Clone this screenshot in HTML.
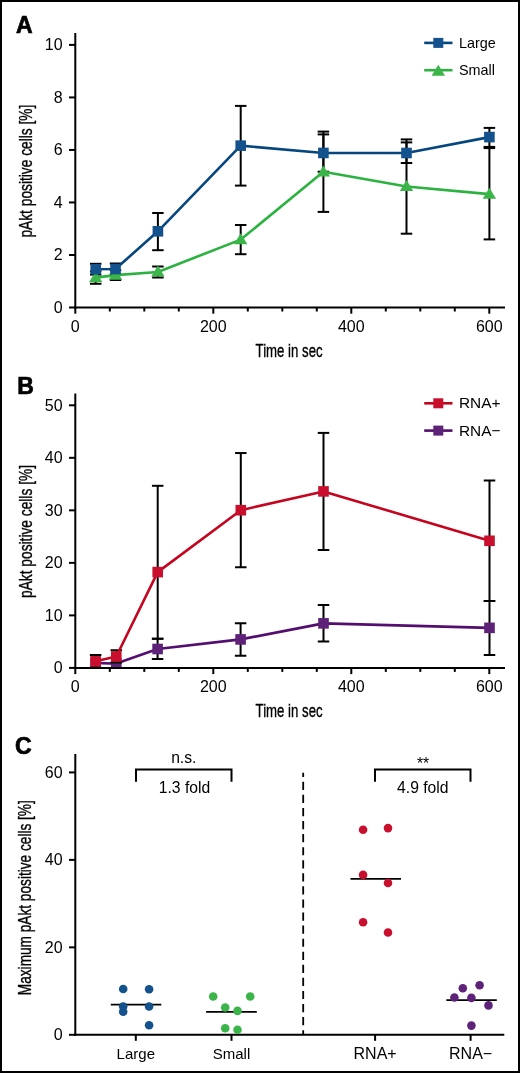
<!DOCTYPE html>
<html><head><meta charset="utf-8"><style>html,body{margin:0;padding:0;background:#fff}svg{display:block;will-change:transform}</style></head><body>
<svg width="520" height="1073" viewBox="0 0 520 1073">
<style>text{font-family:"Liberation Sans",sans-serif;fill:#000}.tk{font-size:16px}.lg{font-size:14.4px}.lg2{font-size:15.4px}.cat2{font-size:16px}.ttl{font-size:17.5px;stroke:#000;stroke-width:0.33px}.pl{font-size:23px;font-weight:bold;stroke:#000;stroke-width:0.7px}.cat{font-size:15px}.an{font-size:15.7px}</style>
<rect x="0" y="0" width="520" height="1073" fill="#fff"/>
<text x="16" y="32.5" class="pl">A</text>
<text x="17.2" y="393.9" class="pl">B</text>
<text x="15" y="754" class="pl">C</text>
<defs><clipPath id="cp0"><rect x="0" y="0" width="520" height="308.0"/></clipPath></defs><g clip-path="url(#cp0)">
<line x1="95.7" y1="271.4" x2="95.7" y2="283.8" stroke="#000" stroke-width="2.0"/>
<line x1="89.95" y1="271.4" x2="101.45" y2="271.4" stroke="#000" stroke-width="2.0"/>
<line x1="89.95" y1="283.8" x2="101.45" y2="283.8" stroke="#000" stroke-width="2.0"/>
<line x1="115.5" y1="270.2" x2="115.5" y2="280.0" stroke="#000" stroke-width="2.0"/>
<line x1="109.75" y1="270.2" x2="121.25" y2="270.2" stroke="#000" stroke-width="2.0"/>
<line x1="109.75" y1="280.0" x2="121.25" y2="280.0" stroke="#000" stroke-width="2.0"/>
<line x1="157.9" y1="266.5" x2="157.9" y2="277.5" stroke="#000" stroke-width="2.0"/>
<line x1="152.15" y1="266.5" x2="163.65" y2="266.5" stroke="#000" stroke-width="2.0"/>
<line x1="152.15" y1="277.5" x2="163.65" y2="277.5" stroke="#000" stroke-width="2.0"/>
<line x1="240.7" y1="225.0" x2="240.7" y2="254.2" stroke="#000" stroke-width="2.0"/>
<line x1="234.95" y1="225.0" x2="246.45" y2="225.0" stroke="#000" stroke-width="2.0"/>
<line x1="234.95" y1="254.2" x2="246.45" y2="254.2" stroke="#000" stroke-width="2.0"/>
<line x1="323.4" y1="131.6" x2="323.4" y2="211.9" stroke="#000" stroke-width="2.0"/>
<line x1="317.65" y1="131.6" x2="329.15" y2="131.6" stroke="#000" stroke-width="2.0"/>
<line x1="317.65" y1="211.9" x2="329.15" y2="211.9" stroke="#000" stroke-width="2.0"/>
<line x1="406.5" y1="139.4" x2="406.5" y2="233.7" stroke="#000" stroke-width="2.0"/>
<line x1="400.75" y1="139.4" x2="412.25" y2="139.4" stroke="#000" stroke-width="2.0"/>
<line x1="400.75" y1="233.7" x2="412.25" y2="233.7" stroke="#000" stroke-width="2.0"/>
<line x1="489.4" y1="148.1" x2="489.4" y2="239.4" stroke="#000" stroke-width="2.0"/>
<line x1="483.65" y1="148.1" x2="495.15" y2="148.1" stroke="#000" stroke-width="2.0"/>
<line x1="483.65" y1="239.4" x2="495.15" y2="239.4" stroke="#000" stroke-width="2.0"/>
<line x1="95.7" y1="263.8" x2="95.7" y2="274.6" stroke="#000" stroke-width="2.0"/>
<line x1="89.95" y1="263.8" x2="101.45" y2="263.8" stroke="#000" stroke-width="2.0"/>
<line x1="89.95" y1="274.6" x2="101.45" y2="274.6" stroke="#000" stroke-width="2.0"/>
<line x1="115.5" y1="263.5" x2="115.5" y2="274.5" stroke="#000" stroke-width="2.0"/>
<line x1="109.75" y1="263.5" x2="121.25" y2="263.5" stroke="#000" stroke-width="2.0"/>
<line x1="109.75" y1="274.5" x2="121.25" y2="274.5" stroke="#000" stroke-width="2.0"/>
<line x1="157.9" y1="213.0" x2="157.9" y2="250.2" stroke="#000" stroke-width="2.0"/>
<line x1="152.15" y1="213.0" x2="163.65" y2="213.0" stroke="#000" stroke-width="2.0"/>
<line x1="152.15" y1="250.2" x2="163.65" y2="250.2" stroke="#000" stroke-width="2.0"/>
<line x1="240.7" y1="105.9" x2="240.7" y2="185.6" stroke="#000" stroke-width="2.0"/>
<line x1="234.95" y1="105.9" x2="246.45" y2="105.9" stroke="#000" stroke-width="2.0"/>
<line x1="234.95" y1="185.6" x2="246.45" y2="185.6" stroke="#000" stroke-width="2.0"/>
<line x1="323.4" y1="134.4" x2="323.4" y2="171.7" stroke="#000" stroke-width="2.0"/>
<line x1="317.65" y1="134.4" x2="329.15" y2="134.4" stroke="#000" stroke-width="2.0"/>
<line x1="317.65" y1="171.7" x2="329.15" y2="171.7" stroke="#000" stroke-width="2.0"/>
<line x1="406.5" y1="142.4" x2="406.5" y2="163.0" stroke="#000" stroke-width="2.0"/>
<line x1="400.75" y1="142.4" x2="412.25" y2="142.4" stroke="#000" stroke-width="2.0"/>
<line x1="400.75" y1="163.0" x2="412.25" y2="163.0" stroke="#000" stroke-width="2.0"/>
<line x1="489.4" y1="127.9" x2="489.4" y2="146.9" stroke="#000" stroke-width="2.0"/>
<line x1="483.65" y1="127.9" x2="495.15" y2="127.9" stroke="#000" stroke-width="2.0"/>
<line x1="483.65" y1="146.9" x2="495.15" y2="146.9" stroke="#000" stroke-width="2.0"/>
<polyline points="95.7,277.6 115.5,275.1 157.9,272.0 240.7,239.6 323.4,171.8 406.5,186.5 489.4,194.1" fill="none" stroke="#2cb241" stroke-width="2.6" stroke-linejoin="round"/>
<polygon points="95.70,271.20 102.40,282.20 89.00,282.20" fill="#3bb54a"/>
<polygon points="115.50,268.70 122.20,279.70 108.80,279.70" fill="#3bb54a"/>
<polygon points="157.90,265.60 164.60,276.60 151.20,276.60" fill="#3bb54a"/>
<polygon points="240.70,233.20 247.40,244.20 234.00,244.20" fill="#3bb54a"/>
<polygon points="323.40,165.40 330.10,176.40 316.70,176.40" fill="#3bb54a"/>
<polygon points="406.50,180.10 413.20,191.10 399.80,191.10" fill="#3bb54a"/>
<polygon points="489.40,187.70 496.10,198.70 482.70,198.70" fill="#3bb54a"/>
<polyline points="95.7,269.2 115.5,269.0 157.9,231.3 240.7,145.65 323.4,152.95 406.5,153.0 489.4,137.1" fill="none" stroke="#06467f" stroke-width="2.6" stroke-linejoin="round"/>
<rect x="90.40" y="263.90" width="10.6" height="10.6" fill="#13528c"/>
<rect x="110.20" y="263.70" width="10.6" height="10.6" fill="#13528c"/>
<rect x="152.60" y="226.00" width="10.6" height="10.6" fill="#13528c"/>
<rect x="235.40" y="140.35" width="10.6" height="10.6" fill="#13528c"/>
<rect x="318.10" y="147.65" width="10.6" height="10.6" fill="#13528c"/>
<rect x="401.20" y="147.70" width="10.6" height="10.6" fill="#13528c"/>
<rect x="484.10" y="131.80" width="10.6" height="10.6" fill="#13528c"/>
</g>
<line x1="75.3" y1="33" x2="75.3" y2="308.5" stroke="#000" stroke-width="2.0"/>
<line x1="74.3" y1="307.5" x2="505" y2="307.5" stroke="#000" stroke-width="2.0"/>
<line x1="69" y1="307.50" x2="75.3" y2="307.50" stroke="#000" stroke-width="2.0"/>
<text x="62.6" y="312.90" text-anchor="end" class="tk">0</text>
<line x1="69" y1="254.98" x2="75.3" y2="254.98" stroke="#000" stroke-width="2.0"/>
<text x="62.6" y="260.38" text-anchor="end" class="tk">2</text>
<line x1="69" y1="202.46" x2="75.3" y2="202.46" stroke="#000" stroke-width="2.0"/>
<text x="62.6" y="207.86" text-anchor="end" class="tk">4</text>
<line x1="69" y1="149.94" x2="75.3" y2="149.94" stroke="#000" stroke-width="2.0"/>
<text x="62.6" y="155.34" text-anchor="end" class="tk">6</text>
<line x1="69" y1="97.42" x2="75.3" y2="97.42" stroke="#000" stroke-width="2.0"/>
<text x="62.6" y="102.82" text-anchor="end" class="tk">8</text>
<line x1="69" y1="44.90" x2="75.3" y2="44.90" stroke="#000" stroke-width="2.0"/>
<text x="62.6" y="50.30" text-anchor="end" class="tk">10</text>
<line x1="75.30" y1="307.5" x2="75.30" y2="313.7" stroke="#000" stroke-width="2.0"/>
<text x="75.30" y="331.9" text-anchor="middle" class="tk">0</text>
<line x1="109.80" y1="307.5" x2="109.80" y2="311.5" stroke="#000" stroke-width="2.0"/>
<line x1="144.30" y1="307.5" x2="144.30" y2="311.5" stroke="#000" stroke-width="2.0"/>
<line x1="178.80" y1="307.5" x2="178.80" y2="311.5" stroke="#000" stroke-width="2.0"/>
<line x1="213.30" y1="307.5" x2="213.30" y2="313.7" stroke="#000" stroke-width="2.0"/>
<text x="213.30" y="331.9" text-anchor="middle" class="tk">200</text>
<line x1="247.80" y1="307.5" x2="247.80" y2="311.5" stroke="#000" stroke-width="2.0"/>
<line x1="282.30" y1="307.5" x2="282.30" y2="311.5" stroke="#000" stroke-width="2.0"/>
<line x1="316.80" y1="307.5" x2="316.80" y2="311.5" stroke="#000" stroke-width="2.0"/>
<line x1="351.30" y1="307.5" x2="351.30" y2="313.7" stroke="#000" stroke-width="2.0"/>
<text x="351.30" y="331.9" text-anchor="middle" class="tk">400</text>
<line x1="385.80" y1="307.5" x2="385.80" y2="311.5" stroke="#000" stroke-width="2.0"/>
<line x1="420.30" y1="307.5" x2="420.30" y2="311.5" stroke="#000" stroke-width="2.0"/>
<line x1="454.80" y1="307.5" x2="454.80" y2="311.5" stroke="#000" stroke-width="2.0"/>
<line x1="489.30" y1="307.5" x2="489.30" y2="313.7" stroke="#000" stroke-width="2.0"/>
<text x="489.30" y="331.9" text-anchor="middle" class="tk">600</text>
<text x="255.6" y="356.8" class="ttl" textLength="67" lengthAdjust="spacingAndGlyphs">Time in sec</text>
<text transform="translate(32.3 237.6) rotate(-90)" x="0" y="0" class="ttl" textLength="133" lengthAdjust="spacingAndGlyphs">pAkt positive cells [%]</text>
<line x1="424.2" y1="42.9" x2="452.5" y2="42.9" stroke="#06467f" stroke-width="2.6"/>
<rect x="433.30" y="37.90" width="10" height="10" fill="#13528c"/>
<text x="459" y="47.80" class="lg">Large</text>
<line x1="424.2" y1="70.2" x2="452.5" y2="70.2" stroke="#2cb241" stroke-width="2.6"/>
<polygon points="438.30,64.70 445.00,75.70 431.60,75.70" fill="#3bb54a"/>
<text x="459" y="75.10" class="lg">Small</text>
<defs><clipPath id="cp360"><rect x="0" y="0" width="520" height="668.4"/></clipPath></defs><g clip-path="url(#cp360)">
<line x1="157.6" y1="638.8" x2="157.6" y2="659.0" stroke="#000" stroke-width="2.0"/>
<line x1="151.85" y1="638.8" x2="163.35" y2="638.8" stroke="#000" stroke-width="2.0"/>
<line x1="151.85" y1="659.0" x2="163.35" y2="659.0" stroke="#000" stroke-width="2.0"/>
<line x1="240.6" y1="623.3" x2="240.6" y2="655.7" stroke="#000" stroke-width="2.0"/>
<line x1="234.85" y1="623.3" x2="246.35" y2="623.3" stroke="#000" stroke-width="2.0"/>
<line x1="234.85" y1="655.7" x2="246.35" y2="655.7" stroke="#000" stroke-width="2.0"/>
<line x1="323.5" y1="605.1" x2="323.5" y2="641.4" stroke="#000" stroke-width="2.0"/>
<line x1="317.75" y1="605.1" x2="329.25" y2="605.1" stroke="#000" stroke-width="2.0"/>
<line x1="317.75" y1="641.4" x2="329.25" y2="641.4" stroke="#000" stroke-width="2.0"/>
<line x1="489.5" y1="601.0" x2="489.5" y2="654.9" stroke="#000" stroke-width="2.0"/>
<line x1="483.75" y1="601.0" x2="495.25" y2="601.0" stroke="#000" stroke-width="2.0"/>
<line x1="483.75" y1="654.9" x2="495.25" y2="654.9" stroke="#000" stroke-width="2.0"/>
<polyline points="95.6,663.0 116.3,663.6 157.6,649.0 240.6,639.4 323.5,623.35 489.5,627.85" fill="none" stroke="#540e70" stroke-width="2.6" stroke-linejoin="round"/>
<rect x="90.30" y="657.70" width="10.6" height="10.6" fill="#5e2278"/>
<rect x="111.00" y="658.30" width="10.6" height="10.6" fill="#5e2278"/>
<rect x="152.30" y="643.70" width="10.6" height="10.6" fill="#5e2278"/>
<rect x="235.30" y="634.10" width="10.6" height="10.6" fill="#5e2278"/>
<rect x="318.20" y="618.05" width="10.6" height="10.6" fill="#5e2278"/>
<rect x="484.20" y="622.55" width="10.6" height="10.6" fill="#5e2278"/>
<line x1="95.6" y1="655.0" x2="95.6" y2="667.6" stroke="#000" stroke-width="2.0"/>
<line x1="89.85" y1="655.0" x2="101.35" y2="655.0" stroke="#000" stroke-width="2.0"/>
<line x1="89.85" y1="667.6" x2="101.35" y2="667.6" stroke="#000" stroke-width="2.0"/>
<line x1="116.3" y1="650.3" x2="116.3" y2="662.5" stroke="#000" stroke-width="2.0"/>
<line x1="110.55" y1="650.3" x2="122.05" y2="650.3" stroke="#000" stroke-width="2.0"/>
<line x1="110.55" y1="662.5" x2="122.05" y2="662.5" stroke="#000" stroke-width="2.0"/>
<line x1="157.7" y1="485.8" x2="157.7" y2="638.75" stroke="#000" stroke-width="2.0"/>
<line x1="151.95" y1="485.8" x2="163.45" y2="485.8" stroke="#000" stroke-width="2.0"/>
<line x1="151.95" y1="638.75" x2="163.45" y2="638.75" stroke="#000" stroke-width="2.0"/>
<line x1="240.8" y1="453.05" x2="240.8" y2="567.2" stroke="#000" stroke-width="2.0"/>
<line x1="235.05" y1="453.05" x2="246.55" y2="453.05" stroke="#000" stroke-width="2.0"/>
<line x1="235.05" y1="567.2" x2="246.55" y2="567.2" stroke="#000" stroke-width="2.0"/>
<line x1="323.5" y1="432.9" x2="323.5" y2="549.9" stroke="#000" stroke-width="2.0"/>
<line x1="317.75" y1="432.9" x2="329.25" y2="432.9" stroke="#000" stroke-width="2.0"/>
<line x1="317.75" y1="549.9" x2="329.25" y2="549.9" stroke="#000" stroke-width="2.0"/>
<line x1="489.5" y1="480.5" x2="489.5" y2="601.0" stroke="#000" stroke-width="2.0"/>
<line x1="483.75" y1="480.5" x2="495.25" y2="480.5" stroke="#000" stroke-width="2.0"/>
<line x1="483.75" y1="601.0" x2="495.25" y2="601.0" stroke="#000" stroke-width="2.0"/>
<polyline points="95.6,661.3 116.3,656.5 157.7,572.1 240.8,510.2 323.5,491.4 489.5,540.8" fill="none" stroke="#c5041f" stroke-width="2.6" stroke-linejoin="round"/>
<rect x="90.30" y="656.00" width="10.6" height="10.6" fill="#c8102e"/>
<rect x="111.00" y="651.20" width="10.6" height="10.6" fill="#c8102e"/>
<rect x="152.40" y="566.80" width="10.6" height="10.6" fill="#c8102e"/>
<rect x="235.50" y="504.90" width="10.6" height="10.6" fill="#c8102e"/>
<rect x="318.20" y="486.10" width="10.6" height="10.6" fill="#c8102e"/>
<rect x="484.20" y="535.50" width="10.6" height="10.6" fill="#c8102e"/>
</g>
<line x1="75.3" y1="393.4" x2="75.3" y2="668.9" stroke="#000" stroke-width="2.0"/>
<line x1="74.3" y1="667.9" x2="505" y2="667.9" stroke="#000" stroke-width="2.0"/>
<line x1="69" y1="667.90" x2="75.3" y2="667.90" stroke="#000" stroke-width="2.0"/>
<text x="62.6" y="673.30" text-anchor="end" class="tk">0</text>
<line x1="69" y1="615.38" x2="75.3" y2="615.38" stroke="#000" stroke-width="2.0"/>
<text x="62.6" y="620.78" text-anchor="end" class="tk">10</text>
<line x1="69" y1="562.86" x2="75.3" y2="562.86" stroke="#000" stroke-width="2.0"/>
<text x="62.6" y="568.26" text-anchor="end" class="tk">20</text>
<line x1="69" y1="510.34" x2="75.3" y2="510.34" stroke="#000" stroke-width="2.0"/>
<text x="62.6" y="515.74" text-anchor="end" class="tk">30</text>
<line x1="69" y1="457.82" x2="75.3" y2="457.82" stroke="#000" stroke-width="2.0"/>
<text x="62.6" y="463.22" text-anchor="end" class="tk">40</text>
<line x1="69" y1="405.30" x2="75.3" y2="405.30" stroke="#000" stroke-width="2.0"/>
<text x="62.6" y="410.70" text-anchor="end" class="tk">50</text>
<line x1="75.30" y1="667.9" x2="75.30" y2="674.1" stroke="#000" stroke-width="2.0"/>
<text x="75.30" y="692.3" text-anchor="middle" class="tk">0</text>
<line x1="109.80" y1="667.9" x2="109.80" y2="671.9" stroke="#000" stroke-width="2.0"/>
<line x1="144.30" y1="667.9" x2="144.30" y2="671.9" stroke="#000" stroke-width="2.0"/>
<line x1="178.80" y1="667.9" x2="178.80" y2="671.9" stroke="#000" stroke-width="2.0"/>
<line x1="213.30" y1="667.9" x2="213.30" y2="674.1" stroke="#000" stroke-width="2.0"/>
<text x="213.30" y="692.3" text-anchor="middle" class="tk">200</text>
<line x1="247.80" y1="667.9" x2="247.80" y2="671.9" stroke="#000" stroke-width="2.0"/>
<line x1="282.30" y1="667.9" x2="282.30" y2="671.9" stroke="#000" stroke-width="2.0"/>
<line x1="316.80" y1="667.9" x2="316.80" y2="671.9" stroke="#000" stroke-width="2.0"/>
<line x1="351.30" y1="667.9" x2="351.30" y2="674.1" stroke="#000" stroke-width="2.0"/>
<text x="351.30" y="692.3" text-anchor="middle" class="tk">400</text>
<line x1="385.80" y1="667.9" x2="385.80" y2="671.9" stroke="#000" stroke-width="2.0"/>
<line x1="420.30" y1="667.9" x2="420.30" y2="671.9" stroke="#000" stroke-width="2.0"/>
<line x1="454.80" y1="667.9" x2="454.80" y2="671.9" stroke="#000" stroke-width="2.0"/>
<line x1="489.30" y1="667.9" x2="489.30" y2="674.1" stroke="#000" stroke-width="2.0"/>
<text x="489.30" y="692.3" text-anchor="middle" class="tk">600</text>
<text x="255.6" y="717.2" class="ttl" textLength="67" lengthAdjust="spacingAndGlyphs">Time in sec</text>
<text transform="translate(32.3 598.0) rotate(-90)" x="0" y="0" class="ttl" textLength="133" lengthAdjust="spacingAndGlyphs">pAkt positive cells [%]</text>
<line x1="424.2" y1="403.29999999999995" x2="452.5" y2="403.29999999999995" stroke="#c5041f" stroke-width="2.6"/>
<rect x="433.30" y="398.30" width="10" height="10" fill="#c8102e"/>
<text x="459" y="408.20" class="lg2">RNA+</text>
<line x1="424.2" y1="430.59999999999997" x2="452.5" y2="430.59999999999997" stroke="#540e70" stroke-width="2.6"/>
<rect x="433.30" y="425.60" width="10" height="10" fill="#5e2278"/>
<text x="459" y="435.50" class="lg2">RNA−</text>
<line x1="75.3" y1="754.1" x2="75.3" y2="1035.8" stroke="#000" stroke-width="2.0"/>
<line x1="74.3" y1="1034.8" x2="504.3" y2="1034.8" stroke="#000" stroke-width="2.0"/>
<line x1="69" y1="1034.80" x2="75.3" y2="1034.80" stroke="#000" stroke-width="2.0"/>
<text x="62.6" y="1040.20" text-anchor="end" class="tk">0</text>
<line x1="69" y1="947.34" x2="75.3" y2="947.34" stroke="#000" stroke-width="2.0"/>
<text x="62.6" y="952.74" text-anchor="end" class="tk">20</text>
<line x1="69" y1="859.88" x2="75.3" y2="859.88" stroke="#000" stroke-width="2.0"/>
<text x="62.6" y="865.28" text-anchor="end" class="tk">40</text>
<line x1="69" y1="772.42" x2="75.3" y2="772.42" stroke="#000" stroke-width="2.0"/>
<text x="62.6" y="777.82" text-anchor="end" class="tk">60</text>
<line x1="135.8" y1="1034.8" x2="135.8" y2="1040.8" stroke="#000" stroke-width="2.0"/>
<text x="135.8" y="1058.5" text-anchor="middle" class="cat">Large</text>
<line x1="231.5" y1="1034.8" x2="231.5" y2="1040.8" stroke="#000" stroke-width="2.0"/>
<text x="231.5" y="1058.5" text-anchor="middle" class="cat">Small</text>
<line x1="375.1" y1="1034.8" x2="375.1" y2="1040.8" stroke="#000" stroke-width="2.0"/>
<text x="375.1" y="1058.5" text-anchor="middle" class="cat2">RNA+</text>
<line x1="470.6" y1="1034.8" x2="470.6" y2="1040.8" stroke="#000" stroke-width="2.0"/>
<text x="470.6" y="1058.5" text-anchor="middle" class="cat2">RNA−</text>
<text transform="translate(30.7 995.2) rotate(-90)" x="0" y="0" class="ttl" textLength="195" lengthAdjust="spacingAndGlyphs">Maximum pAkt positive cells [%]</text>
<line x1="303.2" y1="772.8" x2="303.2" y2="1034" stroke="#000" stroke-width="1.8" stroke-dasharray="8.2 4.87" stroke-dashoffset="4.07"/>
<path d="M136 781.7 V769.4 H231.5 V781.7" fill="none" stroke="#000" stroke-width="2.0"/>
<path d="M375 781.7 V769.4 H470.5 V781.7" fill="none" stroke="#000" stroke-width="2.0"/>
<text x="183.8" y="762.6" text-anchor="middle" class="an">n.s.</text>
<text x="184.5" y="793.2" text-anchor="middle" class="an">1.3 fold</text>
<text x="423" y="768.9" text-anchor="middle" class="an">**</text>
<text x="422.8" y="793.1" text-anchor="middle" class="an">4.9 fold</text>
<line x1="110.8" y1="1004.6" x2="161.3" y2="1004.6" stroke="#000" stroke-width="1.8"/>
<circle cx="123.2" cy="989.0" r="4.3" fill="#13528c"/>
<circle cx="149.1" cy="989.2" r="4.3" fill="#13528c"/>
<circle cx="123.2" cy="1006.5" r="4.3" fill="#13528c"/>
<circle cx="123.2" cy="1011.7" r="4.3" fill="#13528c"/>
<circle cx="149.1" cy="1006.5" r="4.3" fill="#13528c"/>
<circle cx="149.1" cy="1025.2" r="4.3" fill="#13528c"/>
<line x1="206.1" y1="1011.8" x2="256.8" y2="1011.8" stroke="#000" stroke-width="1.8"/>
<circle cx="213.2" cy="996.5" r="4.3" fill="#3bb54a"/>
<circle cx="250.2" cy="996.5" r="4.3" fill="#3bb54a"/>
<circle cx="225.2" cy="1007.5" r="4.3" fill="#3bb54a"/>
<circle cx="237.5" cy="1010.9" r="4.3" fill="#3bb54a"/>
<circle cx="225.2" cy="1028.2" r="4.3" fill="#3bb54a"/>
<circle cx="237.5" cy="1029.8" r="4.3" fill="#3bb54a"/>
<line x1="350.5" y1="878.9" x2="401.0" y2="878.9" stroke="#000" stroke-width="1.8"/>
<circle cx="363.1" cy="829.8" r="4.3" fill="#c8102e"/>
<circle cx="388.0" cy="828.1" r="4.3" fill="#c8102e"/>
<circle cx="363.1" cy="874.9" r="4.3" fill="#c8102e"/>
<circle cx="388.0" cy="883.0" r="4.3" fill="#c8102e"/>
<circle cx="363.1" cy="922.3" r="4.3" fill="#c8102e"/>
<circle cx="388.0" cy="932.5" r="4.3" fill="#c8102e"/>
<line x1="446.3" y1="1000.2" x2="496.8" y2="1000.2" stroke="#000" stroke-width="1.8"/>
<circle cx="462.8" cy="988.3" r="4.3" fill="#5e2278"/>
<circle cx="479.6" cy="985.3" r="4.3" fill="#5e2278"/>
<circle cx="454.4" cy="997.5" r="4.3" fill="#5e2278"/>
<circle cx="471.4" cy="997.9" r="4.3" fill="#5e2278"/>
<circle cx="488.5" cy="1005.4" r="4.3" fill="#5e2278"/>
<circle cx="471.4" cy="1025.6" r="4.3" fill="#5e2278"/>
<rect x="1" y="1" width="518" height="1071" fill="none" stroke="#000" stroke-width="2"/>
</svg>
</body></html>
